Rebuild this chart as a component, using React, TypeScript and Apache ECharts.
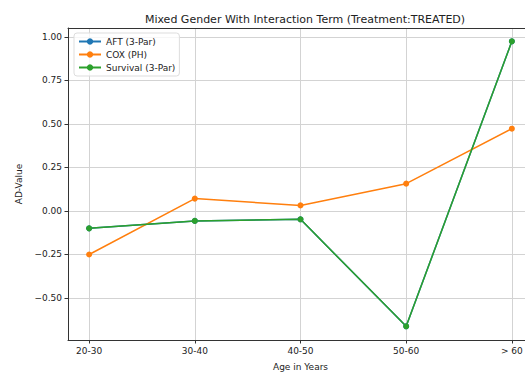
import React, { useEffect, useRef } from "react";
import * as echarts from "echarts";

const categories = ["20-30", "30-40", "40-50", "50-60", "> 60"];
const aftValues = [-0.1, -0.057, -0.048, -0.663, 0.975];
const coxValues = [-0.25, 0.071, 0.032, 0.157, 0.473];
const survivalValues = [-0.1, -0.057, -0.048, -0.663, 0.975];
const xTicks = [0, 1, 2, 3, 4];
const yTicks = [-0.5, -0.25, 0, 0.25, 0.5, 0.75, 1.0];

const FONT = "DejaVu Sans";
const INK = "#333";
const GRID = "#d3d3d3";

export default function App() {
  const ref = useRef<HTMLDivElement>(null);

  useEffect(() => {
    if (!ref.current) return;
    const chart = echarts.init(ref.current, null, { renderer: "svg" });
    const toPts = (vals: number[]) => vals.map((v, i) => [i, v]);
    const line = (name: string, color: string, vals: number[]) => ({
      name,
      type: "line",
      data: toPts(vals),
      symbol: "circle",
      symbolSize: 6,
      lineStyle: { color, width: 1.5 },
      itemStyle: { color },
      z: 3,
    });
    chart.setOption({
      animation: false,
      title: {
        text: "Mixed Gender With Interaction Term (Treatment:TREATED)",
        left: 300,
        textAlign: "center",
        top: 9,
        textStyle: { fontFamily: FONT, fontSize: 11, fontWeight: "normal", color: "#222" },
      },
      legend: {
        orient: "vertical",
        left: 74,
        top: 33,
        itemWidth: 22,
        itemHeight: 8,
        itemGap: 4,
        padding: [4, 4],
        backgroundColor: "rgba(255,255,255,0.8)",
        borderColor: "#ddd",
        borderWidth: 1,
        borderRadius: 3,
        textStyle: { fontFamily: FONT, fontSize: 9, color: "#222" },
        data: ["AFT (3-Par)", "COX (PH)", "Survival (3-Par)"],
      },
      grid: {
        left: 68,
        right: 12,
        top: 28,
        bottom: 34,
        show: false,
      },
      xAxis: [
        {
          type: "value",
          min: -0.2,
          max: 4.2,
          name: "Age in Years",
          nameLocation: "middle",
          nameGap: 22,
          nameTextStyle: { fontFamily: FONT, fontSize: 9, color: "#222" },
          axisLine: { show: true, onZero: false, lineStyle: { color: INK } },
          axisTick: { show: true, length: 3.5, customValues: xTicks, lineStyle: { color: INK } },
          axisLabel: {
            customValues: xTicks,
            formatter: (v: number) => categories[Math.round(v)] ?? "",
            fontFamily: FONT,
            fontSize: 9,
            color: "#222",
            margin: 6,
          },
          splitLine: { show: true, lineStyle: { color: GRID, width: 1 } },
        },
        {
          // top frame edge
          type: "value",
          position: "top",
          min: -0.2,
          max: 4.2,
          axisLine: { show: true, onZero: false, lineStyle: { color: INK } },
          axisTick: { show: false },
          axisLabel: { show: false },
          splitLine: { show: false },
        },
      ],
      yAxis: {
        type: "value",
        min: -0.7415,
        max: 1.0515,
        name: "AD-Value",
        nameLocation: "middle",
        nameGap: 40,
        nameTextStyle: { fontFamily: FONT, fontSize: 9, color: "#222" },
        axisLine: { show: true, onZero: false, lineStyle: { color: INK } },
        axisTick: { show: true, length: 3.5, customValues: yTicks, lineStyle: { color: INK } },
        axisLabel: {
          customValues: yTicks,
          formatter: (v: number) => (v < 0 ? "\u2212" + Math.abs(v).toFixed(2) : v.toFixed(2)),
          fontFamily: FONT,
          fontSize: 9,
          color: "#222",
          margin: 6,
        },
        splitLine: { show: true, lineStyle: { color: GRID, width: 1 } },
      },
      series: [
        line("AFT (3-Par)", "#1f77b4", aftValues),
        line("COX (PH)", "#ff7f0e", coxValues),
        line("Survival (3-Par)", "#2ca02c", survivalValues),
      ],
    });
    return () => chart.dispose();
  }, []);

  return (
    <div style={{ position: "fixed", left: 0, top: 0, width: 525, height: 376, overflow: "hidden", background: "#fff" }}>
      <div ref={ref} style={{ width: 545, height: 376 }} />
    </div>
  );
}
